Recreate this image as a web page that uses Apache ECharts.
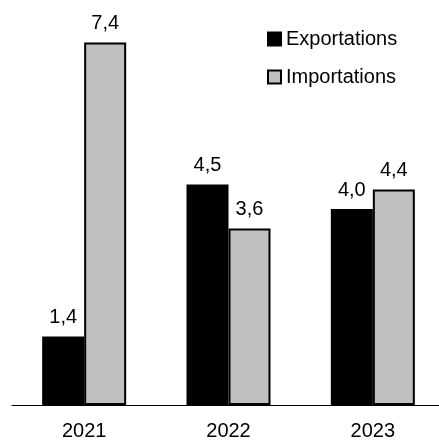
<!DOCTYPE html>
<html>
<head>
<meta charset="utf-8">
<script src="https://cdn.jsdelivr.net/npm/echarts@6/dist/echarts.min.js"></script>
<style>
html,body{margin:0;padding:0;background:#fff;}
#chart{width:439px;height:441px;}
</style>
</head>
<body>
<div id="chart"></div>
<script>
var categories = ['2021', '2022', '2023'];
var exportations = [1.4, 4.5, 4.0];
var importations = [7.4, 3.6, 4.4];
var seriesNames = ['Exportations', 'Importations'];

var FONT = '"Liberation Sans", Arial, sans-serif';
function fmt(p) { return p.value.toFixed(1).replace('.', ','); }

var chart = echarts.init(document.getElementById('chart'), null, {renderer: 'canvas'});
chart.setOption({
  animation: false,
  backgroundColor: '#ffffff',
  textStyle: {fontFamily: FONT},
  legend: {
    orient: 'vertical',
    left: 267,
    top: 29,
    padding: 0,
    itemWidth: 13,
    itemHeight: 13,
    itemGap: 18,
    icon: 'rect',
    textStyle: {fontFamily: FONT, fontSize: 20, color: '#000'},
    data: seriesNames
  },
  grid: {left: 12, right: -6, top: 13, bottom: 36, containLabel: false, outerBoundsMode: 'none'},
  xAxis: {
    type: 'category',
    data: categories,
    axisLine: {show: true, lineStyle: {color: '#000', width: 1}},
    axisTick: {show: false},
    axisLabel: {fontFamily: FONT, fontSize: 20, color: '#000', margin: 16}
  },
  yAxis: {
    type: 'value',
    min: 0,
    max: 8,
    show: false,
    splitLine: {show: false}
  },
  series: [
    {
      name: seriesNames[0],
      type: 'bar',
      data: exportations,
      barGap: '0%',
      barWidth: 42,
      itemStyle: {color: '#000000', borderColor: '#000000', borderWidth: 2},
      label: {show: true, position: 'top', distance: 9, formatter: fmt,
              fontFamily: FONT, fontSize: 20, color: '#000'}
    },
    {
      name: seriesNames[1],
      type: 'bar',
      data: importations,
      barGap: '0%',
      barWidth: 42,
      itemStyle: {color: '#c0c0c0', borderColor: '#000000', borderWidth: 2},
      label: {show: true, position: 'top', distance: 9, formatter: fmt,
              fontFamily: FONT, fontSize: 20, color: '#000'}
    }
  ]
});
</script>
</body>
</html>
